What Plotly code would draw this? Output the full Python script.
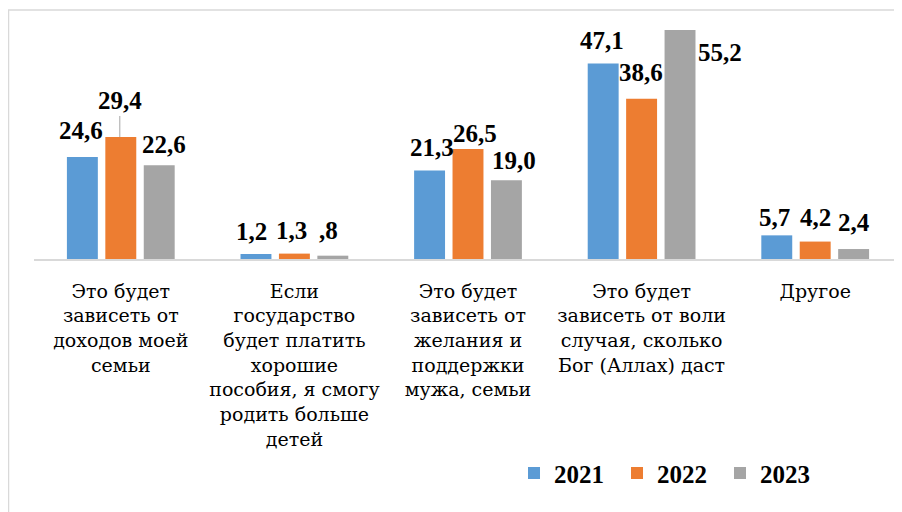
import plotly.graph_objects as go

categories = ["c1", "c2", "c3", "c4", "c5"]
tick_labels = [
    "Это будет<br>зависеть от<br>доходов моей<br>семьи",
    "Если<br>государство<br>будет платить<br>хорошие<br>пособия, я смогу<br>родить больше<br>детей",
    "Это будет<br>зависеть от<br>желания и<br>поддержки<br>мужа, семьи",
    "Это будет<br>зависеть от воли<br>случая, сколько<br>Бог (Аллах) даст",
    "Другое",
]
series_names = ["2021", "2022", "2023"]
values_2021 = [24.6, 1.2, 21.3, 47.1, 5.7]
values_2022 = [29.4, 1.3, 26.5, 38.6, 4.2]
values_2023 = [22.6, 0.8, 19.0, 55.2, 2.4]
colors = ["#5B9BD5", "#ED7D31", "#A5A5A5"]

label_dx = [[-1, -4, 2, -1, -2], [-1, -3, 7, -1, 0], [5, -4, 8, 40, 0]]
label_dy = [[26, 23, 23, 23, 18], [36, 23, 16, 26, 24], [21, 25, 20, -23, 27]]

FONT = "Times New Roman"
FONT_TICK = "DejaVu Serif"

W, H = 902, 512
ML, MR, MT, MB = 26, 8, 2, 261
BARGAP, BARGROUPGAP = 0.336, 0.195
plot_w = W - ML - MR
cat_w = plot_w / len(categories)
slot = cat_w * (1 - BARGAP) / 3


def fmt(v):
    s = f"{v:.1f}".replace(".", ",")
    if s.startswith("0"):
        s = s[1:]
    return s


fig = go.Figure()
all_vals = [values_2021, values_2022, values_2023]
for name, vals, col in zip(series_names, all_vals, colors):
    fig.add_trace(go.Bar(x=categories, y=vals, name=name, marker=dict(color=col, line=dict(width=0))))

annotations = []
for si, vals in enumerate(all_vals):
    for ci, v in enumerate(vals):
        ann = dict(
            x=categories[ci], y=v, xref="x", yref="y",
            text="<b>" + fmt(v) + "</b>",
            font=dict(family=FONT, size=25, color="#000000"),
            xanchor="center", yanchor="middle",
            xshift=(si - 1) * slot + label_dx[si][ci],
            yshift=label_dy[si][ci],
            showarrow=False,
        )
        if si == 1 and ci == 0:
            ann.update(showarrow=True, arrowhead=0, arrowwidth=1, arrowcolor="#A6A6A6",
                       ax=0, ay=-label_dy[si][ci], yshift=0, standoff=0)
        annotations.append(ann)

fig.update_layout(
    width=W, height=H,
    margin=dict(l=ML, r=MR, t=MT, b=MB, autoexpand=False),
    paper_bgcolor="white", plot_bgcolor="white",
    barmode="group", bargap=BARGAP, bargroupgap=BARGROUPGAP,
    font=dict(family=FONT, color="#000000"),
    annotations=annotations,
    showlegend=True,
    legend=dict(
        orientation="h", x=0.553, y=-0.86, xanchor="left", yanchor="middle",
        font=dict(family=FONT, size=25, color="#000000", weight="bold"),
        bgcolor="rgba(0,0,0,0)", traceorder="normal",
        entrywidth=58, entrywidthmode="pixels",
    ),
    xaxis=dict(
        type="category", tickmode="array", tickvals=categories, ticktext=tick_labels,
        range=[-0.5, 4.5], showline=True, linecolor="#D9D9D9", linewidth=1.5,
        ticks="", showgrid=False, zeroline=False, automargin=False,
        tickfont=dict(family=FONT_TICK, size=19, color="#000000"),
        ticklabelstandoff=14,
    ),
    yaxis=dict(range=[0, 60], visible=False, showgrid=False, zeroline=False),
    shapes=[dict(type="rect", xref="paper", yref="paper",
                 x0=(0.5 - ML) / plot_w, x1=1.2, y0=-2.0, y1=1.0,
                 line=dict(color="#D9D9D9", width=1.5), fillcolor="rgba(0,0,0,0)", layer="below")],
)

fig.write_html("out.html")
